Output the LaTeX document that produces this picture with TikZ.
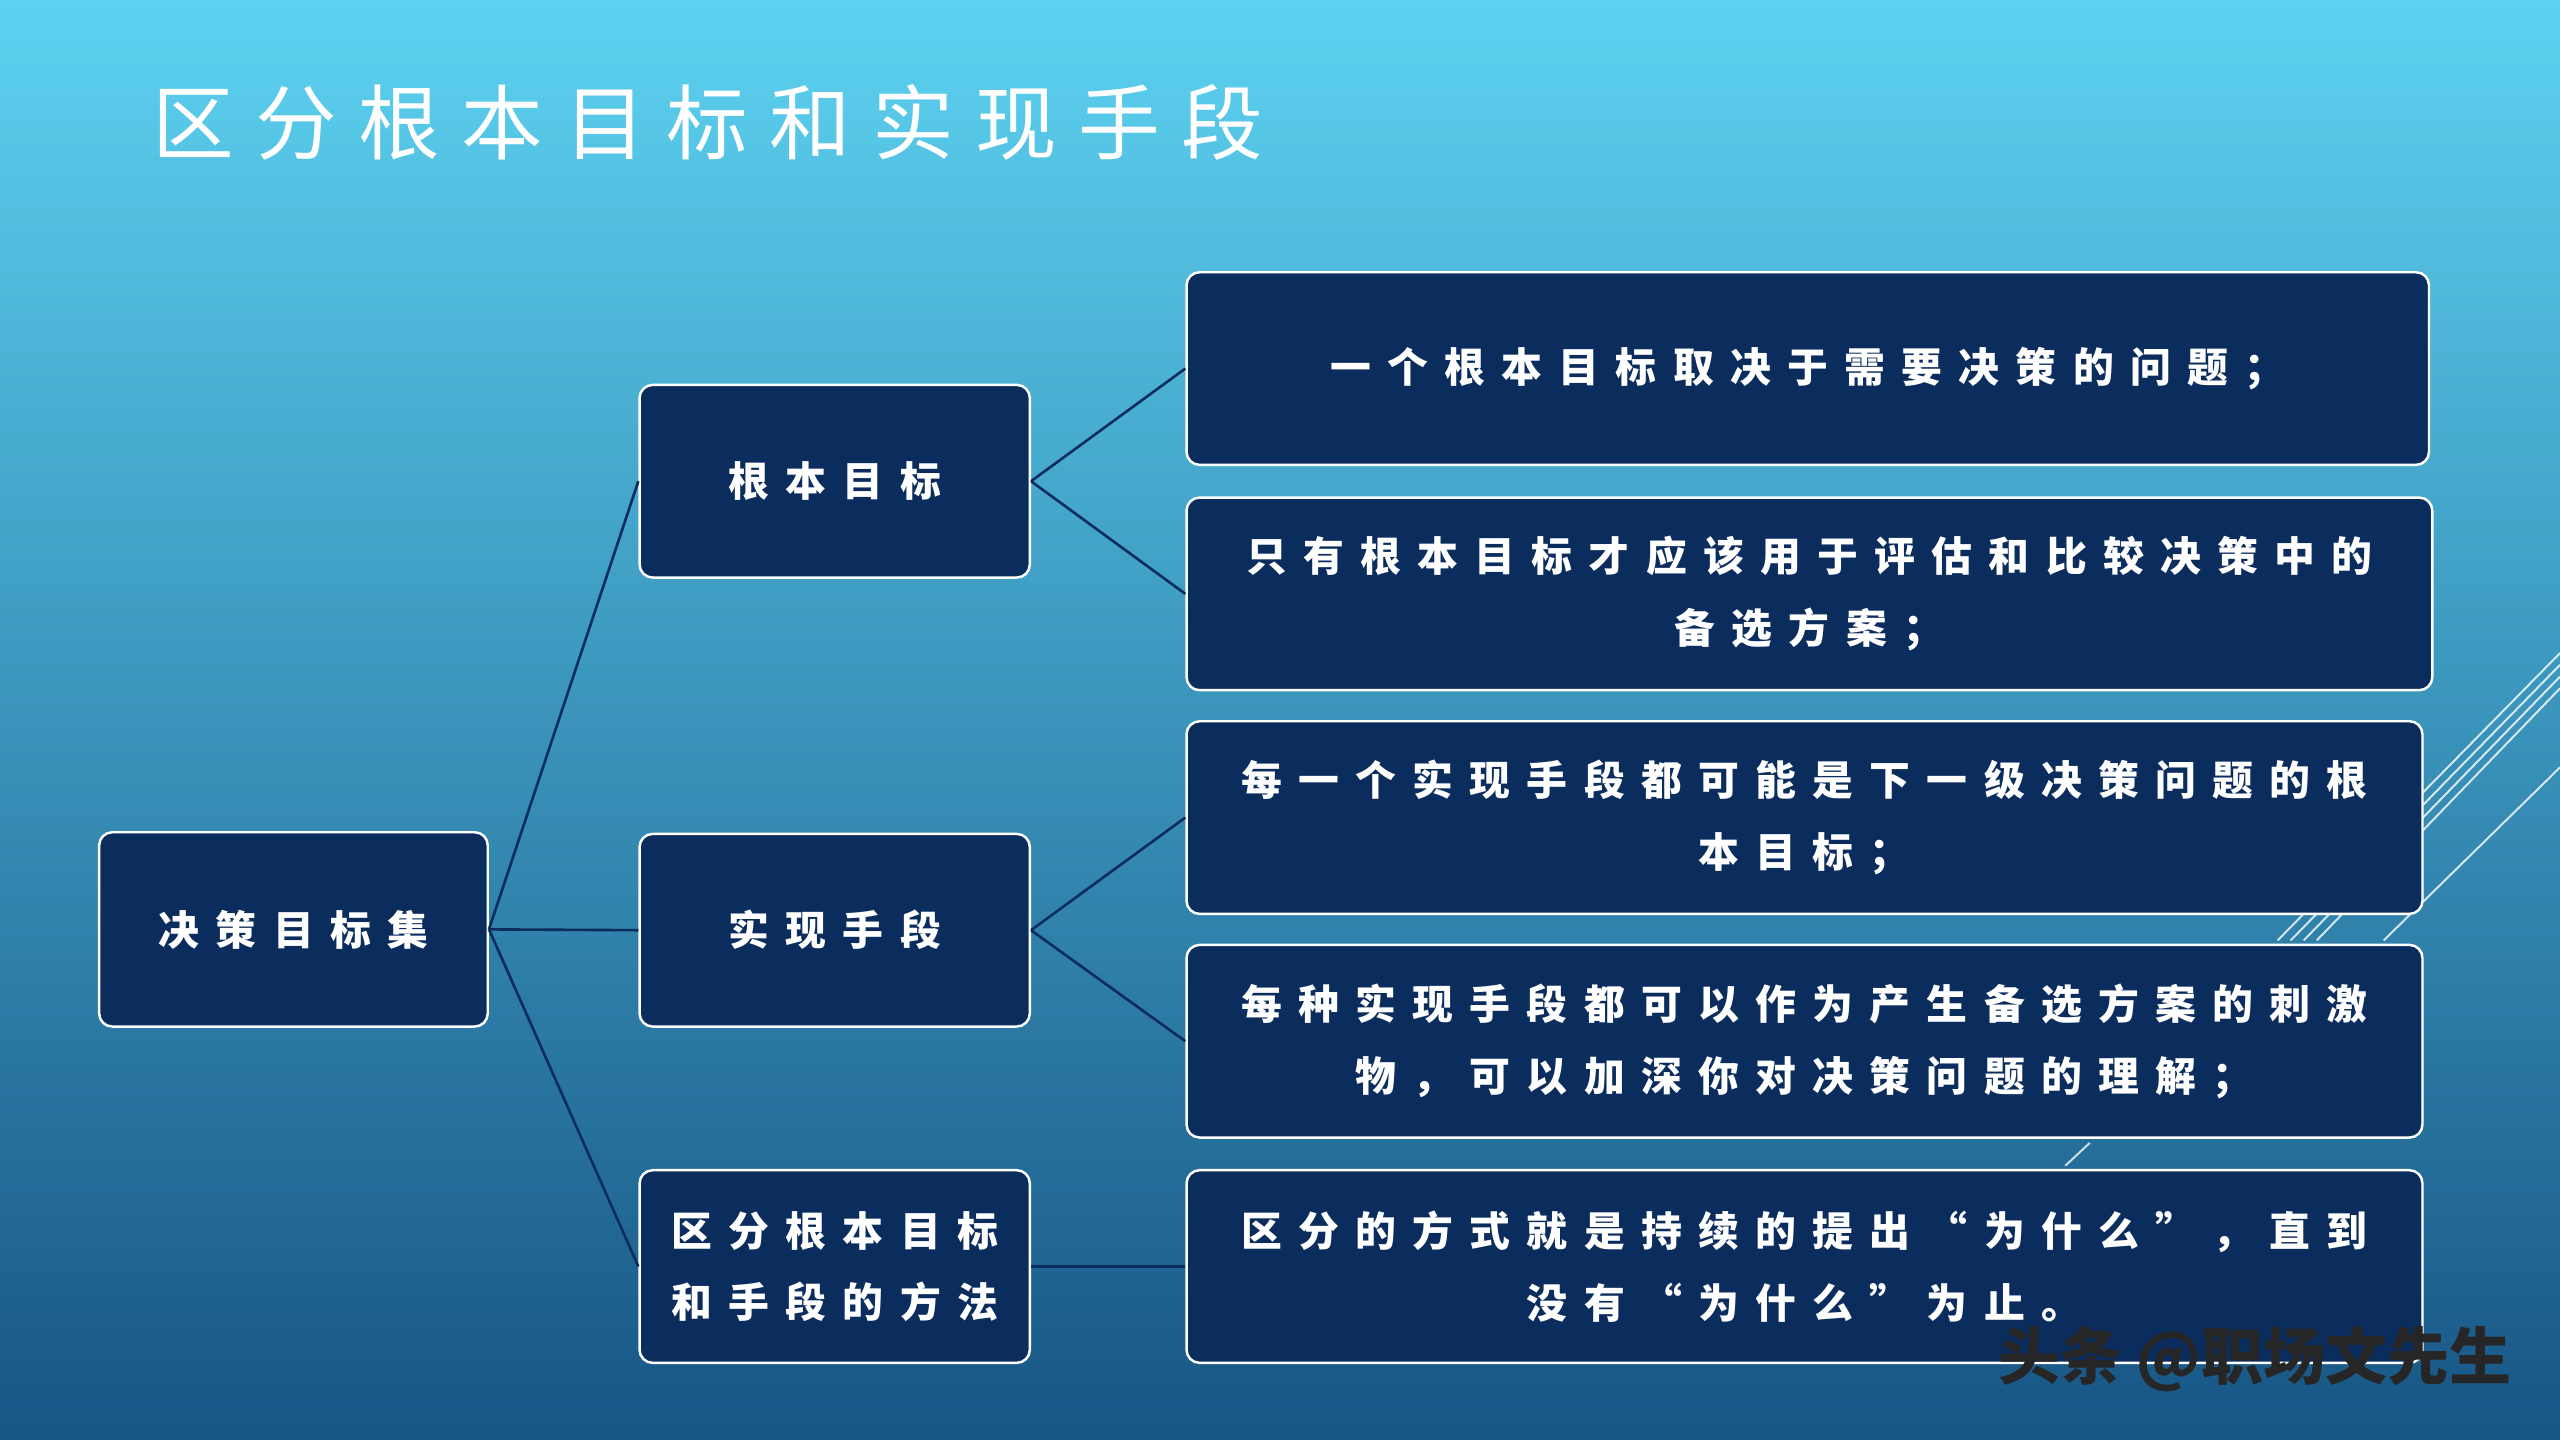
\documentclass[tikz,border=0pt]{standalone}
\usepackage{fontspec}
\newfontfamily\cjk{Noto Sans CJK SC}
\newfontfamily\cjkw[LetterSpace=40]{Noto Sans CJK SC}
\newfontfamily\cjkt[LetterSpace=26]{Noto Sans CJK SC}
\XeTeXlinebreaklocale "zh"
\definecolor{navy}{HTML}{0B2D5E}
\definecolor{bgtop}{HTML}{5DD2F0}
\definecolor{bgbot}{HTML}{175585}
\tikzset{
  box/.style={draw=white, line width=1.5pt, fill=navy, rounded corners=8pt, anchor=north west, inner sep=0pt,
     text=white, font=\cjkw\bfseries\fontsize{25}{44}\selectfont, align=center},
  link/.style={draw=navy, line width=1.6pt},
  deco/.style={draw=white, line width=1.2pt, opacity=0.8}
}
\begin{document}
\begin{tikzpicture}[x=1pt,y=-1pt]
\shade[top color=bgtop, bottom color=bgbot] (0,0) rectangle (1568,882);
\useasboundingbox (0,0) rectangle (1568,882);
\foreach \d in {0,8,16,24}{
  \draw[deco] (1395+\d,576) -- (1568,{400+\d*0.9});
}
\draw[deco] (1460,576) -- (1568,470);
\draw[deco] (1265,714) -- (1280,700);
\node[anchor=west, text=white, font=\cjkt\fontsize{50}{56}\selectfont] (title) at (90,75) {区分根本目标和实现手段};
\node[box, minimum width=238, minimum height=119] (root) at (60,509) {决策目标集};
\node[box, minimum width=239, minimum height=118] (m1) at (391,235) {根本目标};
\node[box, minimum width=239, minimum height=118] (m2) at (391,510) {实现手段};
\node[box, minimum width=239, minimum height=118] (m3) at (391,716) {区分根本目标\\和手段的方法};
\node[box, minimum width=761, minimum height=118] (r1) at (726,166) {一个根本目标取决于需要决策的问题；};
\node[box, minimum width=763, minimum height=118] (r2) at (726,304) {只有根本目标才应该用于评估和比较决策中的\\备选方案；};
\node[box, minimum width=757, minimum height=118] (r3) at (726,441) {每一个实现手段都可能是下一级决策问题的根\\本目标；};
\node[box, minimum width=757, minimum height=118] (r4) at (726,578) {每种实现手段都可以作为产生备选方案的刺激\\物，可以加深你对决策问题的理解；};
\node[box, minimum width=757, minimum height=118] (r5) at (726,716) {区分的方式就是持续的提出“为什么”，直到\\没有“为什么”为止。};
\draw[link] (root.east) -- (m1.west);
\draw[link] (root.east) -- (m2.west);
\draw[link] (root.east) -- (m3.west);
\draw[link] (m1.east) -- (r1.west);
\draw[link] (m1.east) -- (r2.west);
\draw[link] (m2.east) -- (r3.west);
\draw[link] (m2.east) -- (r4.west);
\draw[link] (m3.east) -- (r5.west);
\node[anchor=east, text=black!85, font=\cjk\bfseries\fontsize{38}{42}\selectfont] (wm) at (1542,832) {头条 @职场文先生};
\end{tikzpicture}
\end{document}
